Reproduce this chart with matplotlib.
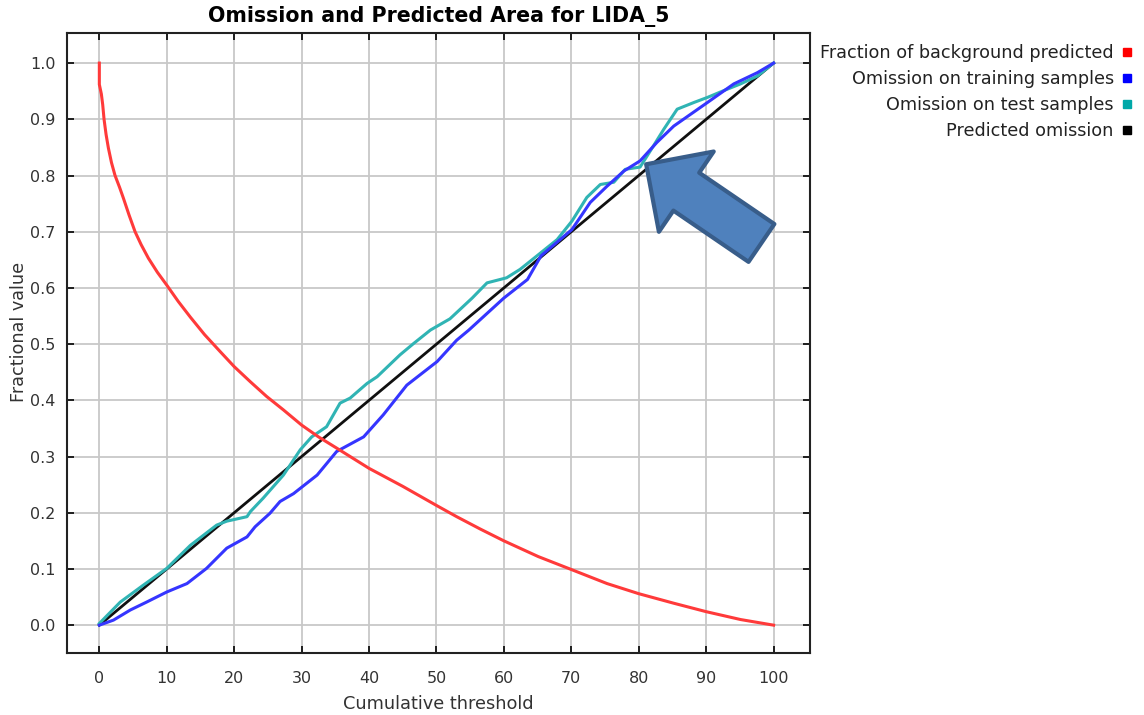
import numpy as np
import matplotlib.pyplot as plt
from matplotlib.lines import Line2D

# Omission / predicted area curves
bg_x = [0, 0, 0.3, 0.5, 0.7, 1.0, 1.34, 1.8, 2.33, 3.0, 3.56, 4.4, 5.3, 6.2, 7.27, 8.6, 10,
        11.7, 13.5, 15.6, 17.9, 20, 22.4, 24.8, 27.3, 30, 32.5, 35.2, 37.6, 40, 42.5, 45,
        47.5, 50, 53, 56.5, 60, 65.1, 70, 75.3, 80, 85.2, 90, 95.1, 100]
bg_y = [1.0, 0.962, 0.945, 0.926, 0.9, 0.873, 0.849, 0.823, 0.80, 0.779, 0.76, 0.73, 0.70,
        0.677, 0.653, 0.628, 0.605, 0.576, 0.548, 0.517, 0.487, 0.46, 0.433, 0.407, 0.383,
        0.356, 0.335, 0.315, 0.297, 0.279, 0.263, 0.247, 0.230, 0.213, 0.193, 0.171, 0.150,
        0.122, 0.099, 0.074, 0.056, 0.039, 0.024, 0.010, 0.0]

train_x = [0, 2.1, 4.6, 7.0, 10, 13, 15.9, 18.9, 21.9, 23.1, 25.3, 26.8, 28.8, 32.3, 35.2,
           39.2, 42.1, 45.6, 50.1, 53.0, 54.8, 60, 63.5, 65.5, 70.1, 72.8, 75.3, 77.8, 80.2,
           82.7, 85.2, 90.2, 94.1, 97.6, 100]
train_y = [0, 0.009, 0.027, 0.041, 0.059, 0.074, 0.101, 0.137, 0.157, 0.175, 0.199, 0.22,
           0.234, 0.267, 0.309, 0.335, 0.374, 0.427, 0.469, 0.507, 0.525, 0.582, 0.615, 0.657,
           0.704, 0.752, 0.781, 0.808, 0.826, 0.859, 0.888, 0.930, 0.963, 0.983, 1.0]

test_x = [0, 3.1, 6.5, 10, 13.5, 17.4, 18.9, 21.9, 22.4, 24.3, 27.3, 29.8, 31.5, 33.7, 35.7,
          37.2, 39.7, 41.2, 44.6, 46.6, 49.1, 52, 55.3, 57.5, 60.4, 62.4, 64.9, 67.9, 70.1,
          72.3, 74.3, 76.3, 78.0, 80.2, 82.2, 83.7, 85.7, 88.2, 90.2, 92.6, 95.1, 97.6, 100]
test_y = [0.003, 0.041, 0.071, 0.101, 0.142, 0.178, 0.185, 0.193, 0.202, 0.226, 0.267, 0.312,
          0.335, 0.353, 0.395, 0.404, 0.430, 0.442, 0.481, 0.501, 0.525, 0.545, 0.582, 0.609,
          0.618, 0.633, 0.657, 0.686, 0.719, 0.761, 0.784, 0.788, 0.811, 0.815, 0.853, 0.882,
          0.918, 0.930, 0.939, 0.951, 0.963, 0.977, 1.0]

pred_x = [0, 100]
pred_y = [0, 1]

labels = ['Fraction of background predicted', 'Omission on training samples',
          'Omission on test samples', 'Predicted omission']
colors = ['#ff0000', '#0000ff', '#00a8a8', '#000000']

fig = plt.figure(figsize=(11.44, 7.15), dpi=100)
ax = fig.add_axes([66.7 / 1144, 1 - 652.7 / 715, (810 - 66.7) / 1144, (652.7 - 33.3) / 715])

ax.plot(pred_x, pred_y, color='#101010', lw=2.0, zorder=3)
ax.plot(test_x, test_y, color='#30b4b4', lw=2.2, zorder=4)
ax.plot(train_x, train_y, color='#3535ff', lw=2.2, zorder=5)
ax.plot(bg_x, bg_y, color='#ff3a3a', lw=2.2, zorder=6)

ax.set_xlim(-4.84, 105.4)
ax.set_ylim(-0.049, 1.053)
ax.set_xticks(np.arange(0, 101, 10))
ax.set_yticks(np.arange(0, 1.01, 0.1))
ax.set_yticklabels([f'{v:.1f}' for v in np.arange(0, 1.01, 0.1)])
ax.grid(True, color='#c8c8c8', lw=1.3)
ax.set_axisbelow(True)
ax.tick_params(direction='in', length=5, width=1.2, top=True, right=True,
               labelsize=11.5, labelcolor='#333333')
ax.tick_params(axis='x', pad=13)
ax.tick_params(axis='y', pad=8)
for s in ax.spines.values():
    s.set_linewidth(1.5)
    s.set_color('#222222')

ax.set_title('Omission and Predicted Area for LIDA_5', fontsize=14.8, fontweight='bold', pad=8)
ax.set_xlabel('Cumulative threshold', fontsize=12.8, color='#333333', labelpad=6.5)
ax.set_ylabel('Fractional value', fontsize=12.7, color='#333333', labelpad=1.5)
ax.yaxis.label.set_y(0.518)

# highlight arrow
ax.annotate('', xy=(81.1, 0.82), xytext=(98.2, 0.68),
            arrowprops=dict(arrowstyle='simple,head_length=35,head_width=70,tail_width=33',
                            mutation_scale=1, fc='#4f81bd', ec='#385d8a', lw=3,
                            shrinkA=0, shrinkB=0), zorder=10)

handles = [Line2D([], [], marker='s', ls='none', color=c, markersize=5.5) for c in colors]
fig.legend(handles, labels, loc='upper right', bbox_to_anchor=(1134 / 1144, 1 - 44 / 715),
           frameon=False, markerfirst=False, fontsize=12.7, handlelength=0.8,
           handletextpad=0.35, labelspacing=0.46, borderpad=0, borderaxespad=0,
           labelcolor='#222222')

fig.savefig('out.png', dpi=100)
